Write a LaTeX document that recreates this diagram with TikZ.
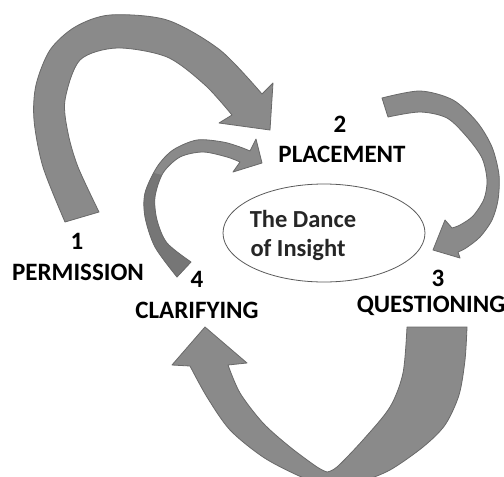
\documentclass[tikz,border=0pt]{standalone}
\usepackage{fontspec}
\setmainfont{Carlito}
\usetikzlibrary{shapes.geometric}
\definecolor{arrowfill}{RGB}{138,138,138}
\definecolor{arrowdark}{RGB}{118,118,118}
\definecolor{arrowedge}{RGB}{105,105,105}
\definecolor{ringedge}{RGB}{90,90,90}
\tikzset{
  blockarrow/.style={fill=arrowfill, draw=arrowedge, line width=0.8pt, line join=round},
  stagelabel/.style={font=\fontsize{25}{28}\selectfont\bfseries, text=black, anchor=base, inner sep=0pt},
  centertext/.style={font=\fontsize{24.5}{27}\selectfont\bfseries, text=black!85, anchor=base, inner sep=0pt},
}
% outline of the hook from stage 4 back to stage 2
\def\hookpath{
  plot[smooth] coordinates {(177,277) (155,247) (145,217) (145,193) (157,167) (173,150) (197,140) (223,142) (240,147) (250,151)}
  -- (256,139) -- (262,163) -- (233,172)
  -- plot[smooth] coordinates {(240,162) (227,157) (203,152) (180,157) (163,173) (155,197) (157,220) (167,243) (191,262)}
  -- cycle}
\begin{document}
\begin{tikzpicture}[x=1pt,y=-1pt]
\useasboundingbox (0,0) rectangle (504,477);
\fill[white] (0,0) rectangle (504,477);
\clip (0,0) rectangle (504,477);

% 1 -> 2 : large arch over the top-left
\path[blockarrow]
  plot[smooth] coordinates {(65,222) (43,167) (34,120) (36,85) (50,50) (75,27) (110,15) (167,20) (220,50) (262,94)}
  -- (273,83) -- (270,130) -- (219,123)
  -- plot[smooth] coordinates {(232,115) (205,85) (167,57) (117,48) (80,60) (65,100) (68,133) (78,167) (99,212)}
  -- cycle;

% 2 -> 3 : tapering arc down the right side
\path[blockarrow]
  plot[smooth] coordinates {(382,98) (420,91) (453,100) (477,122) (492,147) (499,175) (498,200) (492,220) (480,237) (466,248) (458,252)}
  -- (460,258) -- (433,250) -- (445,220)
  -- plot[smooth] coordinates {(452,228) (460,225) (473,216) (484,199) (487,180) (482,158) (467,137) (447,118) (420,112) (388,117)}
  -- cycle;

% 3 -> 4 : deep U-turn under the picture
\path[blockarrow]
  (407,327) -- (467,327)
  -- plot[smooth] coordinates {(467,327) (465,360) (459,395) (445,425) (423,447) (390,470) (360,482) (332,489)}
  -- plot[smooth] coordinates {(332,489) (297,475) (263,457) (230,430) (207,397) (190,366)}
  -- (172,365) -- (205,327) -- (247,363)
  -- plot[smooth] coordinates {(228,365) (240,393) (263,423) (290,447) (317,467) (327,472)}
  -- plot[smooth] coordinates {(327,472) (337,467) (363,440) (390,407) (403,373) (407,327)}
  -- cycle;

% 4 -> 2 : small hook back to placement, its lower half turned to show the darker back face
\path[fill=arrowfill] \hookpath;
\begin{scope}
  \clip \hookpath;
  \fill[arrowdark] (120,300) -- (120,190) -- (150,172) -- (166,176) -- (200,300) -- cycle;
\end{scope}
\path[draw=arrowedge, line width=0.8pt, line join=round] \hookpath;

% centre
\node[draw=ringedge, line width=0.8pt, ellipse, minimum width=202pt, minimum height=98pt, inner sep=0pt] (core) at (324,233) {};
\node[centertext] (dance) at (303,227) {The Dance};
\node[centertext] (insight) at (298,256) {of Insight};

% stages
\node[stagelabel] (n1) at (77,249) {1};
\node[stagelabel] (permission) at (78,280) {PERMISSION};
\node[stagelabel] (n2) at (340,132) {2};
\node[stagelabel] (placement) at (342,162) {PLACEMENT};
\node[stagelabel] (n3) at (438,286) {3};
\node[stagelabel] (questioning) at (431,312) {QUESTIONING};
\node[stagelabel] (n4) at (197,287) {4};
\node[stagelabel] (clarifying) at (197,318) {CLARIFYING};
\end{tikzpicture}
\end{document}
